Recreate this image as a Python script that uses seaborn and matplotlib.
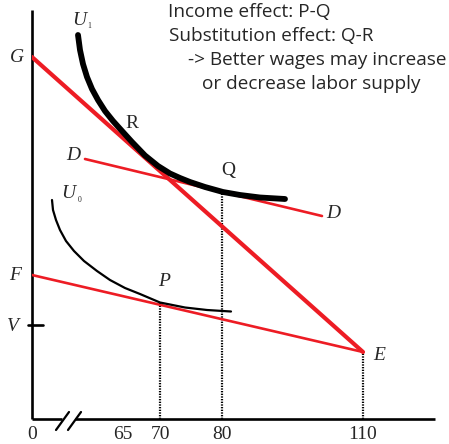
import numpy as np
import pandas as pd
import matplotlib
matplotlib.use("Agg")
import matplotlib.pyplot as plt
import seaborn as sns

# ---- data (schematic diagram units; 1 unit ~ 1 px) ----
u1_x = [46, 48, 51, 55, 60, 66, 73, 81, 90, 100, 113, 126, 138, 148, 158, 173, 191, 208, 228, 253]
u1_y = [384, 369, 355, 342, 330, 319, 308, 298, 288, 277, 263.5, 253, 245.5, 241, 237, 232, 227, 224, 221.5, 220]
u0_x = [20, 21, 24, 28, 34, 42, 52, 65, 78, 93, 108, 128, 153, 175, 199]
u0_y = [219, 209, 199, 189, 178, 168, 158, 148, 139, 131, 125, 116.5, 111.5, 109, 107.5]
line_ge_x = [0, 331]
line_ge_y = [362, 67]
line_fe_x = [0, 331]
line_fe_y = [144, 67]
line_dd_x = [53, 290]
line_dd_y = [260, 203]
v_level = 94
drop_x = [128, 190, 331]
drop_y = [116, 226, 67]
tick_pos = [0, 91, 128, 190, 331]
tick_labels = ["0", "65", "70", "80", "110"]
notes = ["Income effect: P-Q", "Substitution effect: Q-R",
         "-> Better wages may increase", "or decrease labor supply"]

RED = "#ED1C24"
sns.set_theme(style="white")
plt.rcParams["font.family"] = ["DejaVu Sans"]

fig = plt.figure(figsize=(4.49, 4.44), dpi=100)
ax = fig.add_axes([32 / 449, 25 / 444, 403 / 449, 409 / 444])
ax.set_xlim(0, 403)
ax.set_ylim(0, 409)
for s in ax.spines.values():
    s.set_visible(False)

# axes lines (with break)
ax.plot([0, 0], [0, 409], color="black", lw=1.9, clip_on=False, solid_capstyle="butt")
ax.plot([0, 30], [0, 0], color="black", lw=1.9, clip_on=False, solid_capstyle="butt")
ax.plot([43, 403], [0, 0], color="black", lw=1.9, clip_on=False, solid_capstyle="butt")
ax.plot([24, 37], [-11, 7], color="black", lw=1.6, clip_on=False)
ax.plot([36, 49], [-11, 7], color="black", lw=1.6, clip_on=False)
ax.plot([-4, 11], [v_level, v_level], color="black", lw=1.9, clip_on=False)

# dotted drop lines
for xx, yy in zip(drop_x, drop_y):
    ax.plot([xx, xx], [0, yy], color="black", lw=1.6, linestyle=(0, (0.6, 0.6)))

# budget lines
sns.lineplot(x=line_fe_x, y=line_fe_y, color=RED, lw=1.9, ax=ax, sort=False, estimator=None)
sns.lineplot(x=line_dd_x, y=line_dd_y, color=RED, lw=1.9, ax=ax, sort=False, estimator=None)
sns.lineplot(x=line_ge_x, y=line_ge_y, color=RED, lw=3.0, ax=ax, sort=False, estimator=None)

# indifference curves
sns.lineplot(x=u1_x, y=u1_y, color="black", lw=4.2, ax=ax, sort=False, estimator=None)
sns.lineplot(x=u0_x, y=u0_y, color="black", lw=1.6, ax=ax, sort=False, estimator=None)

# labels
serif = "Liberation Serif"
def lab(x, y, t, style="italic", size=14, ha="center"):
    ax.text(x, y, t, family=serif, style=style, fontsize=size, ha=ha, va="center", clip_on=False)

lab(-15, 361, "G")
lab(-17, 144, "F")
lab(-19, 93, "V")
lab(47, 398, "U")
lab(57.5, 393, "1", style="normal", size=5.5)
lab(36, 225, "U")
lab(48, 219, "0", style="normal", size=5.5)
lab(100, 296, "R", style="normal")
lab(41, 264, "D")
lab(196, 249, "Q", style="normal")
lab(301, 206, "D")
lab(132, 138, "P")
lab(347, 64, "E")

ax.set_xticks(tick_pos)
ax.set_xticklabels(tick_labels, family=serif, fontsize=14)
ax.tick_params(axis="x", length=0, pad=5)
ax.set_yticks([])

note_x = [136, 137, 156, 170]
note_y = [402, 378, 354, 330]
for t, x, y in zip(notes, note_x, note_y):
    ax.text(x, y, t, family="Open Sans", fontsize=13.7, ha="left", va="baseline", clip_on=False)

fig.savefig("out.png", dpi=100)
